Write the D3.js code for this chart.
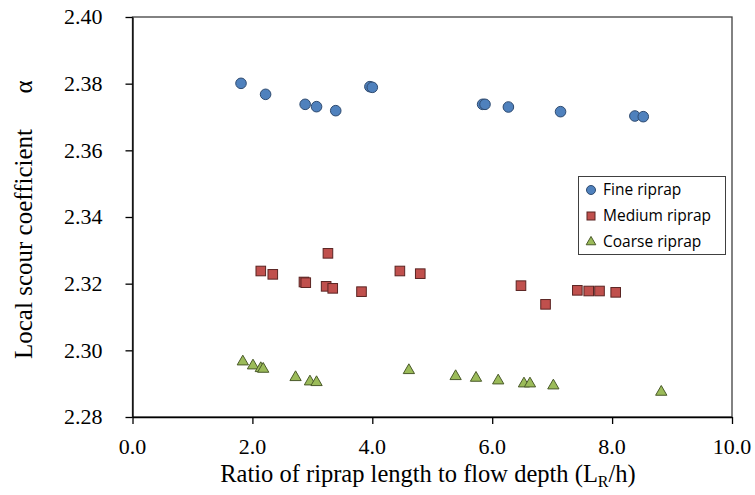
<!DOCTYPE html>
<html><head><meta charset="utf-8">
<script src="https://cdn.jsdelivr.net/npm/d3@7"></script>
<style>body{margin:0;background:#fff}svg{display:block}</style>
</head><body>
<svg id="c" width="755" height="495"></svg>
<script>
const fineX = [1.81,2.22,2.88,3.07,3.39,3.96,4.00,5.84,5.88,6.27,7.14,8.38,8.52];
const fineY = [2.3801,2.3768,2.3738,2.3731,2.3719,2.3791,2.3789,2.3738,2.3738,2.3730,2.3716,2.3703,2.3701];
const mediumX = [2.14,2.34,2.86,2.89,3.26,3.23,3.34,3.82,4.46,4.80,6.48,6.89,7.42,7.61,7.79,8.06];
const mediumY = [2.3238,2.3228,2.3205,2.3203,2.3291,2.3192,2.3186,2.3176,2.3238,2.3230,2.3194,2.3138,2.3180,2.3178,2.3178,2.3174];
const coarseX = [1.84,2.01,2.14,2.18,2.72,2.96,3.07,4.61,5.39,5.73,6.10,6.53,6.63,7.02,8.82];
const coarseY = [2.2966,2.2954,2.2946,2.2944,2.2919,2.2906,2.2904,2.2940,2.2922,2.2917,2.2909,2.2900,2.2900,2.2894,2.2875];
const seriesNames = ["Fine riprap","Medium riprap","Coarse riprap"];
const xTicks = [0,2,4,6,8,10];
const yTicks = [2.28,2.30,2.32,2.34,2.36,2.38,2.40];

const svg = d3.select("#c");
const L=132.5, R=732, T=17, B=417;
const x = d3.scaleLinear().domain([0,10]).range([L,R]);
const y = d3.scaleLinear().domain([2.28,2.40]).range([B,T]);

svg.append("rect").attr("x",L).attr("y",T).attr("width",R-L).attr("height",B-T)
  .attr("fill","none").attr("stroke","#404040").attr("stroke-width",1.3);

const serif = "Liberation Serif";
const gx = svg.append("g").attr("transform",`translate(0,${B})`)
  .call(d3.axisBottom(x).tickValues(xTicks).tickFormat("").tickSizeInner(7).tickSizeOuter(0));
const gy = svg.append("g").attr("transform",`translate(${L},0)`)
  .call(d3.axisLeft(y).tickValues(yTicks).tickFormat("").tickSizeInner(7).tickSizeOuter(0));
[gx,gy].forEach(g=>{
  g.select(".domain").attr("stroke","#000").attr("stroke-width",1.3);
  g.selectAll(".tick line").attr("stroke","#000").attr("stroke-width",1.3);
});

// tick labels
const fx = d3.format(".1f"), fy = d3.format(".2f");
svg.append("g").selectAll("text").data(xTicks).join("text")
  .attr("x",d=>x(d)).attr("y",454).attr("text-anchor","middle")
  .attr("font-family",serif).attr("font-size",22).attr("fill","#000").text(fx);
svg.append("g").selectAll("text").data(yTicks).join("text")
  .attr("x",102.5).attr("y",d=>y(d)).attr("dy","0.33em").attr("text-anchor","end")
  .attr("font-family",serif).attr("font-size",22).attr("fill","#000").text(fy);

const xt = svg.append("text").attr("x",428).attr("y",482).attr("text-anchor","middle")
  .attr("font-family",serif).attr("font-size",24.5).attr("fill","#000");
xt.append("tspan").text("Ratio of riprap length to flow depth (L");
xt.append("tspan").attr("dy",5).attr("font-size",16).text("R");
xt.append("tspan").attr("dy",-5).text("/h)");

const yt = svg.append("g").attr("transform","translate(32,0) rotate(-90)");
yt.append("text").attr("x",-359).attr("y",0).attr("text-anchor","start")
  .attr("font-family",serif).attr("font-size",25).attr("fill","#000").text("Local scour coefficient");
yt.append("text").attr("x",-87).attr("y",0).attr("text-anchor","middle")
  .attr("font-family",serif).attr("font-size",25).attr("fill","#000").text("α");

const fine = fineX.map((v,i)=>[v,fineY[i]]);
const medium = mediumX.map((v,i)=>[v,mediumY[i]]);
const coarse = coarseX.map((v,i)=>[v,coarseY[i]]);

svg.append("g").selectAll("circle").data(fine).join("circle")
  .attr("cx",d=>x(d[0])).attr("cy",d=>y(d[1])).attr("r",5.3)
  .attr("fill","#4F81BD").attr("stroke","#2F4B70").attr("stroke-width",1);
svg.append("g").selectAll("rect").data(medium).join("rect")
  .attr("x",d=>x(d[0])-4.8).attr("y",d=>y(d[1])-4.8).attr("width",9.6).attr("height",9.6)
  .attr("fill","#C0504D").attr("stroke","#5A2422").attr("stroke-width",1);
const tri = d3.symbol().type(d3.symbolTriangle).size(55);
svg.append("g").selectAll("path").data(coarse).join("path")
  .attr("transform",d=>`translate(${x(d[0])},${y(d[1])})`).attr("d",tri)
  .attr("fill","#9BBB59").attr("stroke","#4A5A2A").attr("stroke-width",1);

const lg = svg.append("g");
lg.append("rect").attr("x",578.5).attr("y",176.5).attr("width",147).attr("height",78)
  .attr("fill","#fff").attr("stroke","#404040").attr("stroke-width",1);
const sans = "Open Sans";
const ly = [190,216,242];
lg.append("circle").attr("cx",591).attr("cy",ly[0]).attr("r",4.5).attr("fill","#4F81BD").attr("stroke","#2F4B70");
lg.append("rect").attr("x",587).attr("y",ly[1]-4).attr("width",8).attr("height",8).attr("fill","#C0504D").attr("stroke","#5A2422");
lg.append("path").attr("transform",`translate(591,${ly[2]})`).attr("d",d3.symbol().type(d3.symbolTriangle).size(40)())
  .attr("fill","#9BBB59").attr("stroke","#4A5A2A");
seriesNames.forEach((n,i)=>{
  lg.append("text").attr("x",603).attr("y",ly[i]).attr("dy","0.35em")
    .attr("font-family",sans).attr("font-size",15.5).attr("fill","#000").text(n);
});
</script>
</body></html>
